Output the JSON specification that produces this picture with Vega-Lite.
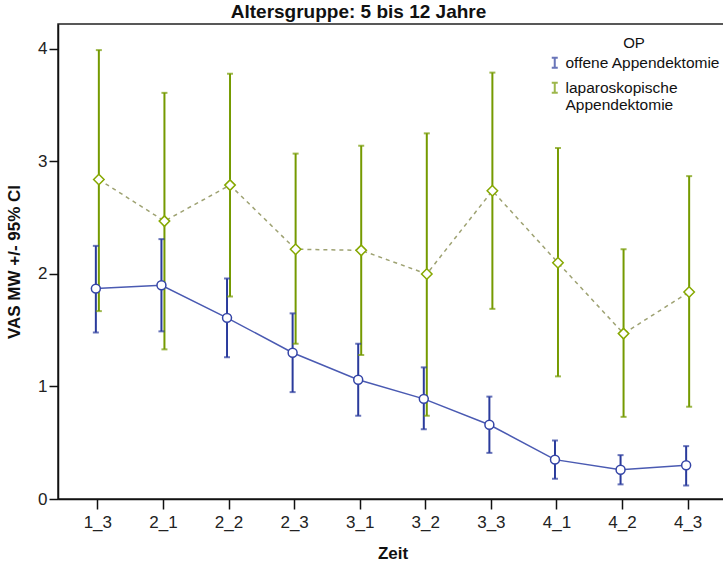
{
  "$schema": "https://vega.github.io/schema/vega-lite/v6.json",
  "autosize": "none",
  "padding": {"left": 58, "top": 24, "right": 0, "bottom": 68},
  "width": 669,
  "height": 475,
  "background": "white",
  "title": {
    "text": "Altersgruppe: 5 bis 12 Jahre",
    "font": "Liberation Sans",
    "fontSize": 19,
    "fontWeight": "bold",
    "color": "#111",
    "anchor": "middle",
    "frame": "group",
    "dx": -34,
    "offset": 2
  },
  "config": {
    "view": {"stroke": "#222", "strokeWidth": 1.5},
    "axis": {
      "labelFont": "Liberation Sans",
      "titleFont": "Liberation Sans",
      "domainColor": "#111",
      "domainWidth": 1.5,
      "tickColor": "#111",
      "tickWidth": 1.5,
      "labelColor": "#222",
      "titleColor": "#111",
      "grid": false
    },
    "legend": {"labelFont": "Liberation Sans", "titleFont": "Liberation Sans"}
  },
  "data": {
    "values": [
      {"Zeit": "1_3", "OP": "offene Appendektomie", "mean": 1.87, "lo": 1.48, "hi": 2.25},
      {"Zeit": "2_1", "OP": "offene Appendektomie", "mean": 1.90, "lo": 1.49, "hi": 2.31},
      {"Zeit": "2_2", "OP": "offene Appendektomie", "mean": 1.61, "lo": 1.26, "hi": 1.96},
      {"Zeit": "2_3", "OP": "offene Appendektomie", "mean": 1.30, "lo": 0.95, "hi": 1.65},
      {"Zeit": "3_1", "OP": "offene Appendektomie", "mean": 1.06, "lo": 0.74, "hi": 1.38},
      {"Zeit": "3_2", "OP": "offene Appendektomie", "mean": 0.89, "lo": 0.62, "hi": 1.17},
      {"Zeit": "3_3", "OP": "offene Appendektomie", "mean": 0.66, "lo": 0.41, "hi": 0.91},
      {"Zeit": "4_1", "OP": "offene Appendektomie", "mean": 0.35, "lo": 0.18, "hi": 0.52},
      {"Zeit": "4_2", "OP": "offene Appendektomie", "mean": 0.26, "lo": 0.13, "hi": 0.39},
      {"Zeit": "4_3", "OP": "offene Appendektomie", "mean": 0.30, "lo": 0.12, "hi": 0.47},
      {"Zeit": "1_3", "OP": "laparoskopische Appendektomie", "mean": 2.84, "lo": 1.67, "hi": 3.99},
      {"Zeit": "2_1", "OP": "laparoskopische Appendektomie", "mean": 2.47, "lo": 1.33, "hi": 3.61},
      {"Zeit": "2_2", "OP": "laparoskopische Appendektomie", "mean": 2.79, "lo": 1.80, "hi": 3.78},
      {"Zeit": "2_3", "OP": "laparoskopische Appendektomie", "mean": 2.22, "lo": 1.38, "hi": 3.07},
      {"Zeit": "3_1", "OP": "laparoskopische Appendektomie", "mean": 2.21, "lo": 1.28, "hi": 3.14},
      {"Zeit": "3_2", "OP": "laparoskopische Appendektomie", "mean": 2.00, "lo": 0.74, "hi": 3.25},
      {"Zeit": "3_3", "OP": "laparoskopische Appendektomie", "mean": 2.74, "lo": 1.69, "hi": 3.79},
      {"Zeit": "4_1", "OP": "laparoskopische Appendektomie", "mean": 2.10, "lo": 1.09, "hi": 3.12},
      {"Zeit": "4_2", "OP": "laparoskopische Appendektomie", "mean": 1.47, "lo": 0.73, "hi": 2.22},
      {"Zeit": "4_3", "OP": "laparoskopische Appendektomie", "mean": 1.84, "lo": 0.82, "hi": 2.87}
    ]
  },
  "encoding": {
    "x": {
      "field": "Zeit",
      "type": "ordinal",
      "sort": null,
      "scale": {"type": "point", "padding": 0.6},
      "axis": {
        "title": "Zeit",
        "titleFontSize": 17,
        "titleFontWeight": "bold",
        "titlePadding": 15,
        "labelFontSize": 17,
        "labelAngle": 0,
        "labelPadding": 5,
        "tickSize": 10
      }
    },
    "xOffset": {
      "field": "OP",
      "type": "nominal",
      "scale": {"domain": ["offene Appendektomie", "laparoskopische Appendektomie"], "range": [-3, 3]}
    },
    "y": {
      "type": "quantitative",
      "scale": {"domain": [0, 4.222], "nice": false, "zero": true},
      "axis": {
        "title": "VAS MW +/- 95% CI",
        "titleFontSize": 17,
        "titleFontWeight": "bold",
        "titlePadding": 14,
        "labelFontSize": 17,
        "labelPadding": 2,
        "tickSize": 9,
        "values": [0, 1, 2, 3, 4]
      }
    }
  },
  "layer": [
    {
      "transform": [{"filter": "datum.OP == 'laparoskopische Appendektomie'"}],
      "mark": {"type": "line", "strokeWidth": 1.5, "stroke": "#9ea272", "strokeDash": [4, 4]},
      "encoding": {"y": {"field": "mean", "type": "quantitative"}}
    },
    {
      "transform": [{"filter": "datum.OP == 'offene Appendektomie'"}],
      "mark": {"type": "line", "strokeWidth": 1.5, "stroke": "#4a5ab2"},
      "encoding": {"y": {"field": "mean", "type": "quantitative"}}
    },
    {
      "mark": {"type": "rule", "strokeWidth": 2},
      "encoding": {
        "y": {"field": "lo", "type": "quantitative"},
        "y2": {"field": "hi"},
        "color": {
          "field": "OP",
          "type": "nominal",
          "scale": {"domain": ["offene Appendektomie", "laparoskopische Appendektomie"], "range": ["#2a3b9c", "#759a00"]},
          "legend": {
            "title": "OP",
            "orient": "none",
            "legendX": 489,
            "legendY": 12,
            "titleFontSize": 15,
            "titleFontWeight": "normal",
            "titleColor": "#111",
            "titleAnchor": "middle",
            "titlePadding": 4,
            "labelFontSize": 15.5,
            "labelColor": "#111",
            "labelOffset": 3,
            "rowPadding": 6,
            "symbolType": "M-0.6,-1H0.6M0,-1V1M-0.6,1H0.6",
            "symbolSize": 100,
            "symbolStrokeWidth": 2,
            "labelExpr": "datum.label == 'laparoskopische Appendektomie' ? ['laparoskopische', 'Appendektomie'] : datum.label"
          }
        }
      }
    },
    {
      "mark": {"type": "tick", "thickness": 2, "size": 6},
      "encoding": {
        "y": {"field": "lo", "type": "quantitative"},
        "color": {"field": "OP", "type": "nominal"}
      }
    },
    {
      "mark": {"type": "tick", "thickness": 2, "size": 6},
      "encoding": {
        "y": {"field": "hi", "type": "quantitative"},
        "color": {"field": "OP", "type": "nominal"}
      }
    },
    {
      "transform": [{"filter": "datum.OP == 'laparoskopische Appendektomie'"}],
      "mark": {"type": "point", "shape": "diamond", "size": 110, "filled": true, "fill": "white", "stroke": "#86a800", "strokeWidth": 1.5, "opacity": 1},
      "encoding": {"y": {"field": "mean", "type": "quantitative"}}
    },
    {
      "transform": [{"filter": "datum.OP == 'offene Appendektomie'"}],
      "mark": {"type": "point", "shape": "circle", "size": 80, "filled": true, "fill": "white", "stroke": "#3444a6", "strokeWidth": 1.5, "opacity": 1},
      "encoding": {"y": {"field": "mean", "type": "quantitative"}}
    }
  ]
}
